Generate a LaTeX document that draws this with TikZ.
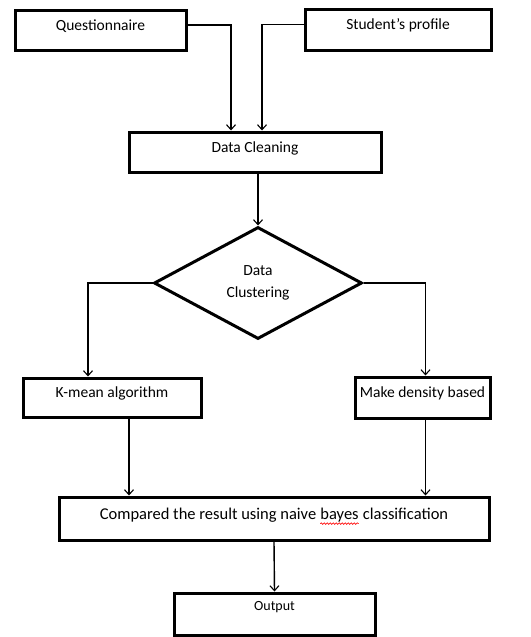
\documentclass[tikz,border=0pt]{standalone}
\usepackage{fontspec}
\setmainfont{Carlito}
\usetikzlibrary{shapes.geometric,arrows.meta,decorations.pathmorphing}
\tikzset{box/.style={draw,line width=3pt,inner sep=0pt,text depth=10pt,font=\fontsize{15.5}{17}\selectfont},
 link/.style={line width=1.4pt,->,>={Straight Barb[length=5pt,width=9pt,line width=1.1pt]}}}
\newcommand{\spellmark}[1]{\tikz[baseline=(w.base)]{\node[draw=none,inner sep=0pt,minimum width=0pt,minimum height=0pt,text depth=,anchor=base] (w) {#1};
 \draw[red,line width=0.6pt,decorate,decoration={snake,segment length=3pt,amplitude=0.8pt}] ([yshift=-1.5pt]w.south west) -- ([yshift=-1.5pt]w.south east);}}
\begin{document}
\begin{tikzpicture}[x=1pt,y=-1pt]
\useasboundingbox (0,0) rectangle (530,637);
\node[box,minimum width=171pt,minimum height=40pt] (quest) at (100.5,30) {Questionnaire};
\node[box,minimum width=186pt,minimum height=41pt] (profile) at (398,29.5) {Student's profile};
\node[box,minimum width=252pt,minimum height=40pt] (clean) at (255,152) {Data Cleaning};
\node[box,diamond,align=center,text depth=,minimum width=208pt,minimum height=112pt] (cluster) at (258,283) {Data\\[5pt]Clustering};
\node[box,minimum width=178pt,minimum height=39pt] (kmean) at (112,397.5) {K-mean algorithm};
\node[box,minimum width=135pt,minimum height=41pt] (density) at (422.5,397.5) {Make density based};
\node[box,minimum width=430pt,minimum height=43pt,font=\fontsize{16.5}{18}\selectfont] (compare) at (274,518.5) {Compared the result using naive \spellmark{bayes} classification};
\node[box,minimum width=201pt,minimum height=42pt,text depth=16pt,font=\fontsize{14}{16}\selectfont] (output) at (274.5,614) {Output};
\draw [link] ([yshift=5pt]quest.east) -| ([xshift=-24pt]clean.north); \draw [link] ([yshift=5pt]profile.west) -| ([xshift=7pt]clean.north);
\draw [link] (clean.south -| cluster.north) -- (cluster.north);
\draw [link] (cluster.west) -| ([xshift=-24pt]kmean.north); \draw [link] (cluster.east) -| ([xshift=3pt]density.north);
\draw [link] ([xshift=17pt]kmean.south) -- ([xshift=17pt]kmean.south |- compare.north); \draw [link] ([xshift=3pt]density.south) -- ([xshift=3pt]density.south |- compare.north);
\draw [link] (compare.south) -- (output.north);
\end{tikzpicture}
\end{document}
